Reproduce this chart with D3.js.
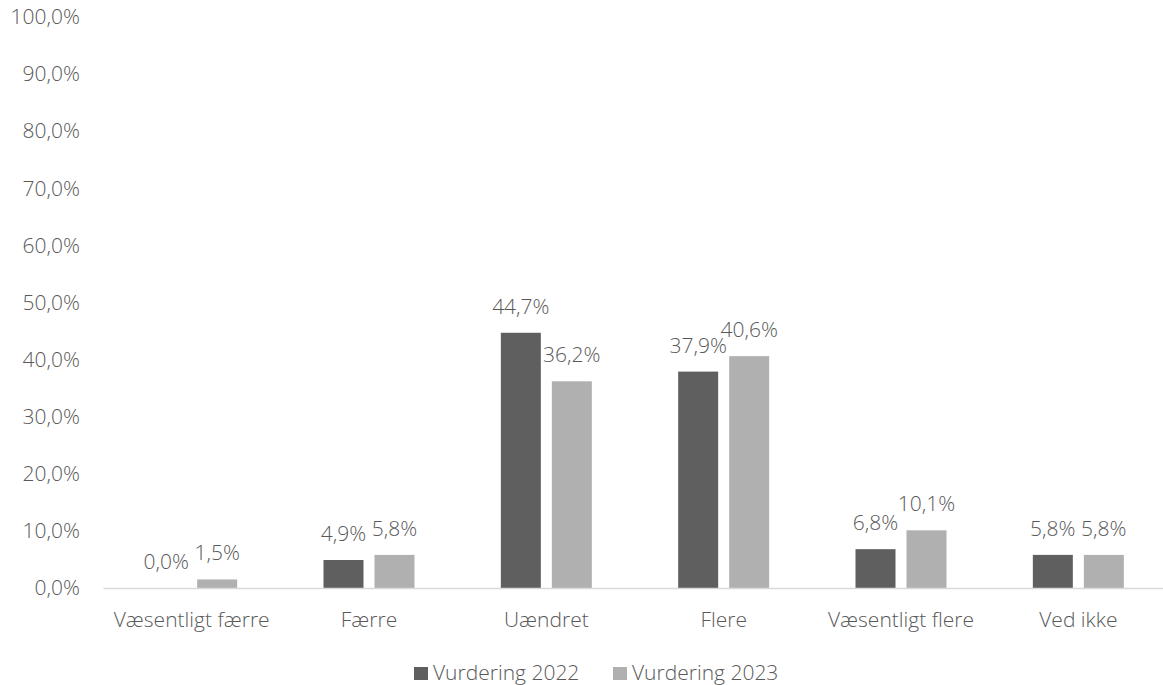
<!DOCTYPE html>
<html>
<head>
<meta charset="utf-8">
<script src="https://cdn.jsdelivr.net/npm/d3@7"></script>
<style>
    body { margin: 0; background: #fff; }
    svg text { font-family: "Open Sans", "Noto Sans", sans-serif; font-weight: 300; fill: #595959; }
</style>
</head>
<body>
<div id="chart"></div>
<script>
// categories and the two series (percent)
var categories = ["Væsentligt færre", "Færre", "Uændret", "Flere", "Væsentligt flere", "Ved ikke"];
var seriesNames = ["Vurdering 2022", "Vurdering 2023"];
var values2022 = [0.0, 4.9, 44.7, 37.9, 6.8, 5.8];
var values2023 = [1.5, 5.8, 36.2, 40.6, 10.1, 5.8];
var yTicks = [0, 10, 20, 30, 40, 50, 60, 70, 80, 90, 100];
var colors = ["#5f5f5f", "#b0b0b0"];

var width = 1163, height = 685;
var plot = { left: 103, right: 1167, top: 17, bottom: 588 };
var fontSize = 21;

var svg = d3.select("#chart")
    .append("svg")
    .attr("width", width)
    .attr("height", height);

var x0 = d3.scaleBand()
    .domain(categories)
    .range([plot.left, plot.right])
    .padding(0);

// group of two bars, 40px each with an 11px gap
var groupWidth = 91;
var x1 = d3.scaleBand()
    .domain(seriesNames)
    .range([0, groupWidth])
    .paddingInner(11 / 51)
    .paddingOuter(0);

var y = d3.scaleLinear()
    .domain([0, 100])
    .range([plot.bottom, plot.top]);

var fmt = function (v) { return v.toFixed(1).replace(".", ",") + "%"; };

// y axis labels (no line, no ticks)
var yAxis = d3.axisLeft(y)
    .tickValues(yTicks)
    .tickFormat(fmt)
    .tickSize(0)
    .tickPadding(0);

var yAxisGroup = svg.append("g")
    .attr("transform", "translate(80,0)")
    .call(yAxis);
yAxisGroup.select(".domain").remove();
yAxisGroup.selectAll("text")
    .attr("font-size", fontSize)
    .attr("fill", "#595959")
    .style("font-family", null);

// rows of data for grouped bars
var rows = categories.map(function (c, i) {
    return { cat: c, vals: [values2022[i], values2023[i]] };
});

var groups = svg.selectAll(".group")
    .data(rows)
    .enter().append("g")
    .attr("class", "group")
    .attr("transform", function (d) {
        return "translate(" + (x0(d.cat) + (x0.bandwidth() - groupWidth) / 2) + ",0)";
    });

groups.selectAll("rect")
    .data(function (d) { return d.vals.map(function (v, j) { return { s: seriesNames[j], v: v, j: j }; }); })
    .enter().append("rect")
    .attr("x", function (d) { return x1(d.s); })
    .attr("y", function (d) { return y(d.v); })
    .attr("width", x1.bandwidth())
    .attr("height", function (d) { return y(0) - y(d.v); })
    .attr("fill", function (d) { return colors[d.j]; });

// x axis baseline + category labels
var xAxis = d3.axisBottom(x0).tickSize(0).tickPadding(0);
var xAxisGroup = svg.append("g")
    .attr("transform", "translate(0," + plot.bottom + ")")
    .call(xAxis);
xAxisGroup.select(".domain")
    .attr("stroke", "#d9d9d9")
    .attr("stroke-width", 1.5);
xAxisGroup.selectAll("text")
    .attr("y", 39)
    .attr("dy", 0)
    .attr("font-size", fontSize)
    .attr("fill", "#595959")
    .style("font-family", null);

// data labels above bars
groups.selectAll(".val")
    .data(function (d) { return d.vals.map(function (v, j) { return { s: seriesNames[j], v: v }; }); })
    .enter().append("text")
    .attr("class", "val")
    .attr("x", function (d) { return x1(d.s) + x1.bandwidth() / 2; })
    .attr("y", function (d) { return y(d.v) - 19; })
    .attr("text-anchor", "middle")
    .attr("font-size", fontSize)
    .text(function (d) { return fmt(d.v); });

// legend
var legend = svg.append("g").attr("class", "legend");
var legendX = [414, 613];
seriesNames.forEach(function (name, i) {
    legend.append("rect")
        .attr("x", legendX[i])
        .attr("y", 667)
        .attr("width", 14)
        .attr("height", 13)
        .attr("fill", colors[i]);
    legend.append("text")
        .attr("x", legendX[i] + 19)
        .attr("y", 680)
        .attr("font-size", fontSize)
        .text(name);
});
</script>
</body>
</html>
